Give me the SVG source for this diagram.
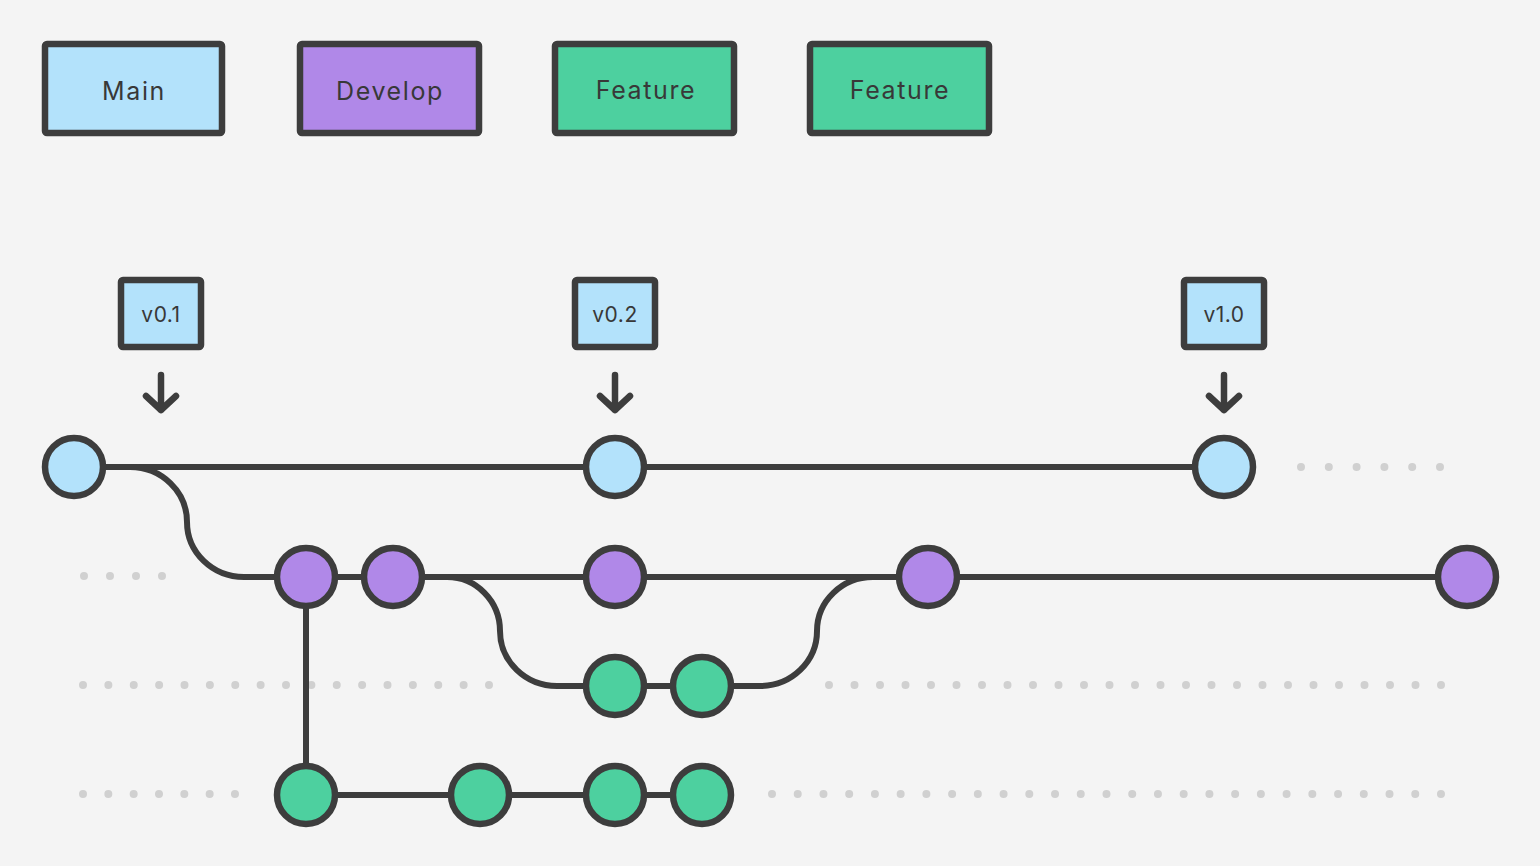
<svg xmlns="http://www.w3.org/2000/svg" width="1540" height="866" viewBox="0 0 1540 866">
<style>
.box{stroke:#3d3d3d;stroke-width:6.5;stroke-linejoin:round}
.blue{fill:#b3e2fb}.purple{fill:#b088e8}.green{fill:#4dd09f}
.lbl{font-family:"Inter","Liberation Sans",sans-serif;font-size:25px;letter-spacing:1.6px;fill:#383838;text-anchor:middle}
.tag{font-family:"Inter","Liberation Sans",sans-serif;font-size:21px;letter-spacing:0.5px;fill:#383838;text-anchor:middle}
.line{fill:none;stroke:#3d3d3d;stroke-width:6}
.arrow{fill:none;stroke:#3d3d3d;stroke-width:6.5;stroke-linecap:round;stroke-linejoin:round}
.c{stroke:#3d3d3d;stroke-width:6.5}
.dots{fill:none;stroke:#d0d0d0;stroke-width:8;stroke-linecap:round}
</style>
<rect width="1540" height="866" fill="#f4f4f4"/>
<g id="legend-main"><rect class="box blue" x="45" y="44" width="177" height="89" rx="2"/><text class="lbl" x="134" y="100">Main</text></g>
<g id="legend-develop"><rect class="box purple" x="300" y="44" width="179" height="89" rx="2"/><text class="lbl" x="390" y="100">Develop</text></g>
<g id="legend-feature1"><rect class="box green" x="555" y="44" width="179" height="89" rx="2"/><text class="lbl" x="646" y="99">Feature</text></g>
<g id="legend-feature2"><rect class="box green" x="810" y="44" width="179" height="89" rx="2"/><text class="lbl" x="900" y="99">Feature</text></g>
<g id="tag-v01"><rect class="box blue" x="121" y="280" width="80" height="67" rx="2"/><text class="tag" x="161" y="322">v0.1</text><path class="arrow" d="M161,375V410M146,396L161,410L176,396"/></g>
<g id="tag-v02"><rect class="box blue" x="575" y="280" width="80" height="67" rx="2"/><text class="tag" x="615" y="322">v0.2</text><path class="arrow" d="M615,375V410M600,396L615,410L630,396"/></g>
<g id="tag-v10"><rect class="box blue" x="1184" y="280" width="80" height="67" rx="2"/><text class="tag" x="1224" y="322">v1.0</text><path class="arrow" d="M1224,375V410M1209,396L1224,410L1239,396"/></g>
<g id="dots">
<path class="dots" d="M84,576H163" stroke-dasharray="0 26"/>
<path class="dots" d="M1301,467H1441" stroke-dasharray="0 27.8"/>
<path class="dots" d="M83,685H490" stroke-dasharray="0 25.375"/>
<path class="dots" d="M829,685H1442" stroke-dasharray="0 25.5"/>
<path class="dots" d="M83,794H236" stroke-dasharray="0 25.33"/>
<path class="dots" d="M772,794H1442" stroke-dasharray="0 25.73"/>
</g>
<g id="connectors">
<path class="line" d="M74,467H1224"/>
<path class="line" d="M130,467A57,55 0 0 1 187,522A57,55 0 0 0 244,577H1467"/>
<path class="line" d="M447,577A53,54 0 0 1 500,631A57,55 0 0 0 557,686H702"/>
<path class="line" d="M702,686H760A57,55 0 0 0 817,631A56,54 0 0 1 873,577"/>
<path class="line" d="M306,577V795H702"/>
</g>
<g id="main-commits"><circle class="c blue" cx="74" cy="467" r="29"/><circle class="c blue" cx="615" cy="467" r="29"/><circle class="c blue" cx="1224" cy="467" r="29"/></g>
<g id="develop-commits"><circle class="c purple" cx="306" cy="577" r="29"/><circle class="c purple" cx="393" cy="577" r="29"/><circle class="c purple" cx="615" cy="577" r="29"/><circle class="c purple" cx="928" cy="577" r="29"/><circle class="c purple" cx="1467" cy="577" r="29"/></g>
<g id="feature1-commits"><circle class="c green" cx="615" cy="686" r="29"/><circle class="c green" cx="702" cy="686" r="29"/></g>
<g id="feature2-commits"><circle class="c green" cx="306" cy="795" r="29"/><circle class="c green" cx="480" cy="795" r="29"/><circle class="c green" cx="615" cy="795" r="29"/><circle class="c green" cx="702" cy="795" r="29"/></g>
</svg>
